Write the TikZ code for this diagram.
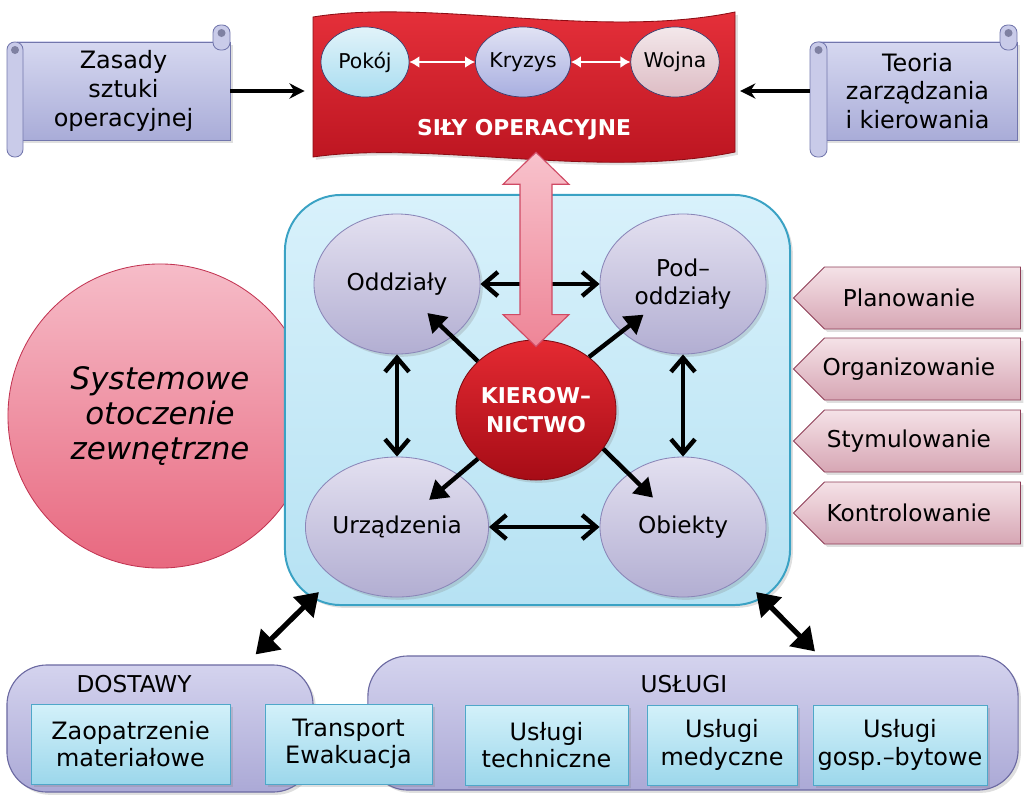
\documentclass[tikz,border=0pt]{standalone}
\usepackage{fontspec}
\setmainfont{DejaVu Sans}
\usetikzlibrary{arrows.meta,shapes.geometric,shapes.symbols,shadows,calc}

\definecolor{scrolltop}{HTML}{D6D8F0}
\definecolor{scrollbot}{HTML}{A9ACD8}
\definecolor{scrolledge}{HTML}{7276AC}
\definecolor{wavetop}{HTML}{E8323C}
\definecolor{wavebot}{HTML}{B8121E}
\definecolor{waveedge}{HTML}{8C0C14}
\definecolor{peace}{HTML}{A9DDF0}
\definecolor{crisis}{HTML}{A8AEE0}
\definecolor{war}{HTML}{DDBCC4}
\definecolor{phaseedge}{HTML}{3A3E6E}
\definecolor{boxtop}{HTML}{D8F1FB}
\definecolor{boxbot}{HTML}{B6E2F3}
\definecolor{boxedge}{HTML}{3AA2C4}
\definecolor{unittop}{HTML}{E3E0F0}
\definecolor{unitbot}{HTML}{B2AED2}
\definecolor{unitedge}{HTML}{8A86B8}
\definecolor{kiertop}{HTML}{E42A32}
\definecolor{kierbot}{HTML}{A60C16}
\definecolor{kieredge}{HTML}{7E0A12}
\definecolor{envtop}{HTML}{F6BCC8}
\definecolor{envbot}{HTML}{E8687F}
\definecolor{envedge}{HTML}{C23452}
\definecolor{functop}{HTML}{F5E2E7}
\definecolor{funcbot}{HTML}{D6A6B4}
\definecolor{funcedge}{HTML}{8E3E57}
\definecolor{grouptop}{HTML}{D4D3EE}
\definecolor{groupbot}{HTML}{ABA9D6}
\definecolor{groupedge}{HTML}{6C6AA2}
\definecolor{itemtop}{HTML}{D3F1FA}
\definecolor{itembot}{HTML}{9CD7EB}
\definecolor{itemedge}{HTML}{4FA7C9}
\definecolor{pinktop}{HTML}{F8C2CC}
\definecolor{pinkbot}{HTML}{EE8597}
\definecolor{pinkedge}{HTML}{D04A64}

\tikzset{
  shade/.style={drop shadow={opacity=0.25, shadow xshift=0.07cm, shadow yshift=-0.07cm}},
  scroll/.style={draw=scrolledge, top color=scrolltop, bottom color=scrollbot, line width=0.6pt, shade,
    minimum height=2.45cm, align=center, font=\fontsize{17}{20.5}\selectfont},
  roll/.style={draw=scrolledge, fill=scrolltop!70!scrollbot, line width=0.6pt, rounded corners=0.19cm},
  curl/.style={fill=scrollbot!75!black},
  wave/.style={draw=waveedge, top color=wavetop, bottom color=wavebot, line width=0.6pt},
  silytxt/.style={text=white, font=\bfseries\fontsize{15.5}{18}\selectfont},
  phase/.style={ellipse, draw=phaseedge, line width=0.5pt, minimum width=2.2cm, minimum height=1.75cm,
    inner sep=0pt, font=\fontsize{14.5}{17}\selectfont},
  whtarr/.style={{Latex[length=0.25cm,width=0.3cm]}-{Latex[length=0.25cm,width=0.3cm]}, white, line width=0.06cm},
  toparr/.style={-{Stealth[length=0.38cm,width=0.38cm]}, line width=0.08cm},
  sysbox/.style={draw=boxedge, top color=boxtop, bottom color=boxbot, line width=1.4pt, rounded corners=1.4cm,
    minimum width=12.625cm, minimum height=10.25cm, shade},
  otocz/.style={circle, draw=envedge, top color=envtop, bottom color=envbot, line width=0.6pt, minimum size=7.6cm,
    align=center, font=\itshape\fontsize{22}{25}\selectfont},
  unit/.style={ellipse, draw=unitedge, top color=unittop, bottom color=unitbot, line width=0.6pt, shade,
    minimum width=4.15cm, minimum height=3.5cm, inner sep=0pt, align=center, font=\fontsize{16.5}{20}\selectfont},
  kier/.style={ellipse, draw=kieredge, top color=kiertop, bottom color=kierbot, line width=0.6pt, shade,
    minimum width=4cm, minimum height=3.5cm, inner sep=0pt, align=center, text=white,
    font=\bfseries\fontsize{15.5}{21}\selectfont},
  dblarr/.style={{Straight Barb[length=0.35cm,width=0.6cm]}-{Straight Barb[length=0.35cm,width=0.6cm]}, line width=0.11cm},
  outarr/.style={-{Triangle[length=0.45cm,width=0.55cm]}, line width=0.11cm, shorten >=1.05cm},
  pinkarr/.style={draw=pinkedge, top color=pinktop, bottom color=pinkbot, line width=0.8pt},
  func/.style={signal, signal to=west, signal pointer angle=90, draw=funcedge, top color=functop, bottom color=funcbot,
    line width=0.6pt, minimum width=5.675cm, minimum height=1.55cm, inner sep=0pt, shade,
    font=\fontsize{16.5}{20}\selectfont},
  group/.style={rounded corners=1cm, draw=groupedge, top color=grouptop, bottom color=groupbot, line width=0.8pt, shade},
  grplbl/.style={font=\fontsize{16.5}{20}\selectfont},
  item/.style={draw=itemedge, top color=itemtop, bottom color=itembot, line width=0.6pt, minimum height=2cm, shade,
    align=center, font=\fontsize{17}{19.5}\selectfont},
  bigarr/.style={{Triangle[length=0.55cm,width=0.7cm]}-{Triangle[length=0.55cm,width=0.7cm]}, line width=0.13cm},
}
\newcommand{\fpull}{\hspace*{-0.68cm}}

\begin{document}
\begin{tikzpicture}[x=0.025cm,y=-0.025cm]
  \useasboundingbox (0,0) rectangle (1024,804);

  \node[otocz] (otocz) at (160,416) {Systemowe\\otoczenie\\zewnętrzne};
  \node[sysbox] (sysbox) at (537.5,400) {};

  % scrolls
  \node[scroll, minimum width=5.325cm] (zasady) at (123.5,91) {Zasady\\sztuki\\operacyjnej};
  \draw[roll] (7,42) rectangle (23,157);
  \fill[curl] (15,50) circle (0.1cm);
  \draw[roll] (213,25) rectangle (230,50);
  \fill[curl] (221.5,33) circle (0.1cm);

  \node[scroll, minimum width=4.975cm] (teoria) at (917.5,91) {Teoria\\zarządzania\\i kierowania};
  \draw[roll] (810,42) rectangle (827,157);
  \fill[curl] (818.5,50) circle (0.1cm);
  \draw[roll] (1000,25) rectangle (1017,50);
  \fill[curl] (1008.5,33) circle (0.1cm);

  % sily operacyjne
  \draw[wave, shade] (313,17) .. controls (430,-2) and (600,40) .. (735,12) -- (735,152)
    .. controls (600,180) and (430,140) .. (313,157) -- cycle;
  \node[minimum width=10.55cm, minimum height=3.35cm] (sily) at (524,85) {};
  \node[silytxt] (silytxt) at (524,130) {SIŁY OPERACYJNE};

  \node[phase, top color=peace!35!white, bottom color=peace] (pokoj) at (365,62) {Pokój};
  \node[phase, top color=crisis!35!white, bottom color=crisis] (kryzys) at (523,62) {Kryzys};
  \node[phase, top color=war!35!white, bottom color=war] (wojna) at (675,62) {Wojna};

  \draw[whtarr] (pokoj) -- (kryzys);
  \draw[whtarr] (kryzys) -- (wojna);

  \draw[toparr, shorten >=0.2cm] (zasady.east) -- (zasady.east -| sily.west);
  \draw[toparr, shorten >=0.12cm] ([xshift=-0.2cm]teoria.west) -- (teoria.west -| sily.east);

  % system
  \node[unit] (odd) at (397,284) {Oddziały};
  \node[unit] (pod) at (683,284) {Pod–\\oddziały};
  \node[unit] (urz) at (397,527) {Urządzenia};
  \node[unit] (obj) at (683,527) {Obiekty};
  \node[kier] (kier) at (536,410) {KIEROW–\\NICTWO};

  \draw[dblarr] (odd) -- (pod);
  \draw[dblarr] (odd) -- (urz);
  \draw[dblarr] (pod) -- (obj);
  \draw[dblarr] (urz) -- (obj);

  \draw[outarr] (kier.140) -- (odd.center);
  \draw[outarr, shorten >=1.25cm] (kier.45) -- (pod.center);
  \draw[outarr] (kier.220) -- (urz.center);
  \draw[outarr] (kier.-30) -- (obj.center);

  \coordinate (ptop) at (kier.north |- sily.south);
  \coordinate (pbot) at ($(kier.north)+(0,7)$);
  \draw[pinkarr] (ptop) -- ++(33,32) -- ++(-17,0) -- ($(pbot)+(16,-32)$) -- ++(17,0) -- (pbot)
    -- ++(-33,-32) -- ++(17,0) -- ($(ptop)+(-16,32)$) -- ++(-17,0) -- cycle;

  % funkcje
  \node[func] (plan) at (922.5,298) {\fpull Planowanie};
  \node[func] (org) at (922.5,369) {\fpull Organizowanie};
  \node[func] (stym) at (922.5,441) {\fpull Stymulowanie};
  \node[func] (kontr) at (922.5,513) {\fpull Kontrolowanie};

  % zabezpieczenie
  \node[group, minimum width=16.25cm, minimum height=3.35cm] (uslugi) at (693,723) {};
  \node[group, minimum width=7.65cm, minimum height=3.175cm] (dostawy) at (160,728.5) {};
  \node[grplbl] (dostlbl) at (134,684) {DOSTAWY};
  \node[grplbl] (usllbl) at (684,684) {USŁUGI};

  \node[item, minimum width=4.975cm] (zaop) at (130.5,744) {Zaopatrzenie\\materiałowe};
  \node[item, minimum width=4.175cm] (transp) at (348.5,744) {Transport\\Ewakuacja};
  \node[item, minimum width=4.075cm] (tech) at (546.5,745) {Usługi\\techniczne};
  \node[item, minimum width=3.75cm] (med) at (722,745) {Usługi\\medyczne};
  \node[item, minimum width=4.35cm] (gosp) at (900,745) {Usługi\\gosp.–bytowe};

  \draw[bigarr] ([shift={(35,-14)}]sysbox.south west) -- ([shift={(-58,-10)}]dostawy.north east);
  \draw[bigarr] ([shift={(-35,-14)}]sysbox.south east) -- ([shift={(122,-4)}]uslugi.north);
\end{tikzpicture}
\end{document}
